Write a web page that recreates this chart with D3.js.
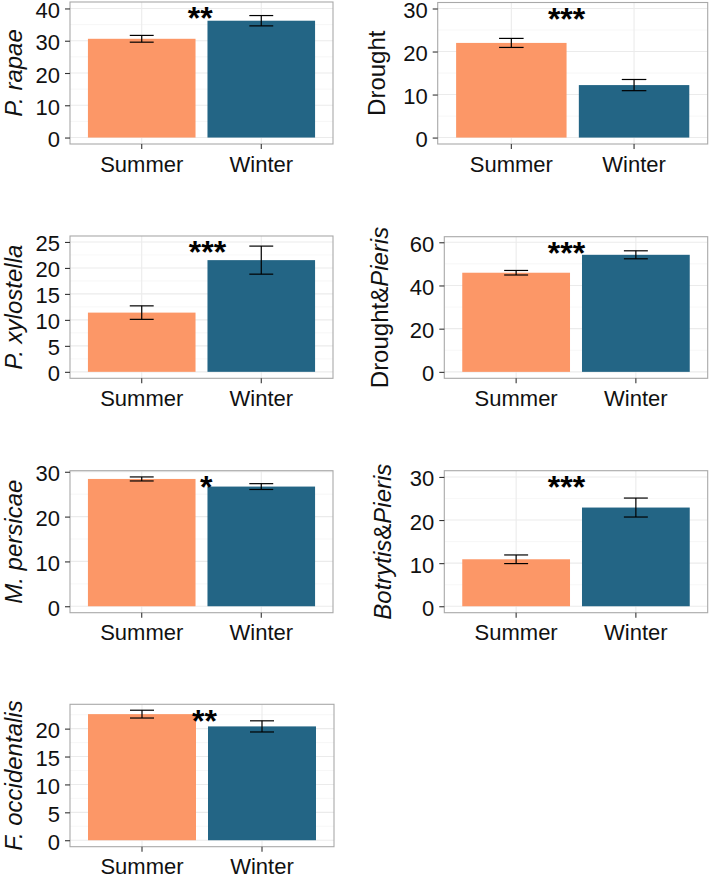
<!DOCTYPE html>
<html>
<head>
<meta charset="utf-8">
<script src="https://cdn.jsdelivr.net/npm/d3@7/dist/d3.min.js"></script>
<style>
  html, body { margin: 0; padding: 0; background: #ffffff; }
  svg { display: block; font-family: "Liberation Sans", Arial, Helvetica, sans-serif; }
</style>
</head>
<body>
<svg id="chart" width="709" height="876"></svg>
<script>
// ---------------- data ----------------
const seasons = ["Summer", "Winter"];
const panelNames = ["P. rapae", "Drought", "P. xylostella", "Drought&Pieris", "M. persicae", "Botrytis&Pieris", "F. occidentalis"];
// y-axis titles as [text, italic] segments
const yTitles = [
  [["P. rapae", true]],
  [["Drought", false]],
  [["P. xylostella", true]],
  [["Drought&", false], ["Pieris", true]],
  [["M. persicae", true]],
  [["Botrytis", true], ["&", false], ["Pieris", true]],
  [["F. occidentalis", true]]
];
const summerMean = [30.6, 22.0, 11.4, 45.9, 28.4, 10.9, 22.6];
const summerSE   = [1.05, 1.05, 1.3, 1.05, 0.45, 1.0, 0.7];
const winterMean = [36.2, 12.2, 21.5, 54.2, 26.7, 22.9, 20.4];
const winterSE   = [1.6, 1.3, 2.7, 1.85, 0.65, 2.2, 1.0];
const stars      = ["**", "***", "***", "***", "*", "***", "**"];
const starY      = [40, 29.9, 24.9, 59.6, 28.8, 29.95, 23.2];   // annotation height (data units)
const starX      = [1.49, 1.45, 1.55, 1.42, 1.54, 1.42, 1.52];  // annotation position on the discrete axis
const yTicks = [
  [0, 10, 20, 30, 40],
  [0, 10, 20, 30],
  [0, 5, 10, 15, 20, 25],
  [0, 20, 40, 60],
  [0, 10, 20, 30],
  [0, 10, 20, 30],
  [0, 5, 10, 15, 20]
];
const seasonColors = ["#fc9767", "#236585"];

// ---------------- layout ----------------
const layout = [
  {x0: 70,    x1: 333,   y0: 2,     y1: 144,   tx: 22},
  {x0: 437.7, x1: 707.7, y0: 2.5,   y1: 144,   tx: 384.5},
  {x0: 70,    x1: 333,   y0: 236,   y1: 378.3, tx: 22},
  {x0: 444.3, x1: 707.7, y0: 236.7, y1: 378.3, tx: 388},
  {x0: 70,    x1: 333,   y0: 470.7, y1: 612.7, tx: 22},
  {x0: 444.3, x1: 707.7, y0: 470.7, y1: 612.7, tx: 391},
  {x0: 70,    x1: 334,   y0: 704.3, y1: 846.7, tx: 22}
];

const svg = d3.select("#chart");
const FONT_TICK = 22, FONT_X = 22, FONT_TITLE = 24, FONT_STAR = 32;

panelNames.forEach((name, i) => {
  const L = layout[i];
  const g = svg.append("g").attr("class", "panel");
  const means = [summerMean[i], winterMean[i]];
  const ses = [summerSE[i], winterSE[i]];
  const Y = starY[i];

  const x = d3.scaleBand().domain(seasons).range([L.x0, L.x1]).paddingInner(0.1).paddingOuter(0.15);
  const y = d3.scaleLinear().domain([-0.05 * Y, 1.05 * Y]).range([L.y1, L.y0]);
  const xc = s => x(s) + x.bandwidth() / 2;

  // grid: minor
  const ticks = yTicks[i];
  const step = ticks[1] - ticks[0];
  const minors = [];
  for (let v = ticks[0] - step / 2; v <= y.domain()[1]; v += step) {
    if (v >= y.domain()[0]) minors.push(v);
  }
  g.selectAll(".minor").data(minors).join("line")
    .attr("x1", L.x0).attr("x2", L.x1)
    .attr("y1", d => y(d)).attr("y2", d => y(d))
    .attr("stroke", "#f3f3f3").attr("stroke-width", 0.7);
  g.selectAll(".majorh").data(ticks).join("line")
    .attr("x1", L.x0).attr("x2", L.x1)
    .attr("y1", d => y(d)).attr("y2", d => y(d))
    .attr("stroke", "#ebebeb").attr("stroke-width", 1.1);
  g.selectAll(".majorv").data(seasons).join("line")
    .attr("x1", d => xc(d)).attr("x2", d => xc(d))
    .attr("y1", L.y0).attr("y2", L.y1)
    .attr("stroke", "#ebebeb").attr("stroke-width", 1.1);

  // bars
  g.selectAll(".bar").data(seasons).join("rect")
    .attr("x", d => x(d)).attr("width", x.bandwidth())
    .attr("y", (d, j) => y(means[j]))
    .attr("height", (d, j) => y(0) - y(means[j]))
    .attr("fill", (d, j) => seasonColors[j]);

  // error bars
  const capW = x.bandwidth() * 0.2 / 0.9;
  seasons.forEach((s, j) => {
    const cx = xc(s), lo = y(means[j] - ses[j]), hi = y(means[j] + ses[j]);
    const eb = g.append("g").attr("stroke", "#000").attr("stroke-width", 1.2).attr("fill", "none");
    eb.append("line").attr("x1", cx).attr("x2", cx).attr("y1", lo).attr("y2", hi);
    eb.append("line").attr("x1", cx - capW / 2).attr("x2", cx + capW / 2).attr("y1", lo).attr("y2", lo);
    eb.append("line").attr("x1", cx - capW / 2).attr("x2", cx + capW / 2).attr("y1", hi).attr("y2", hi);
  });

  // significance stars
  const sx = xc(seasons[0]) + (starX[i] - 1) * (xc(seasons[1]) - xc(seasons[0]));
  g.append("text")
    .attr("x", sx).attr("y", y(Y) + 2.5 + 0.57 * FONT_STAR)
    .attr("text-anchor", "middle")
    .attr("font-size", FONT_STAR).attr("font-weight", "bold").attr("fill", "#000")
    .text(stars[i]);

  // panel border
  g.append("rect")
    .attr("x", L.x0).attr("y", L.y0)
    .attr("width", L.x1 - L.x0).attr("height", L.y1 - L.y0)
    .attr("fill", "none").attr("stroke", "#a9a9a9").attr("stroke-width", 1.1);

  // y axis
  const ya = g.append("g").attr("transform", `translate(${L.x0},0)`)
    .call(d3.axisLeft(y).tickValues(ticks).tickSize(5).tickPadding(5).tickFormat(d3.format("d")));
  ya.select(".domain").remove();
  ya.selectAll(".tick line").attr("stroke", "#333").attr("stroke-width", 1.1);
  ya.selectAll(".tick text").attr("font-size", FONT_TICK).attr("fill", "#111")
    .attr("font-family", "Liberation Sans, Arial, sans-serif")
    .attr("dy", "0.41em");

  // x axis
  const xa = g.append("g").attr("transform", `translate(0,${L.y1})`)
    .call(d3.axisBottom(x).tickSize(5).tickPadding(6));
  xa.select(".domain").remove();
  xa.selectAll(".tick line").attr("stroke", "#333").attr("stroke-width", 1.1);
  xa.selectAll(".tick text").attr("font-size", FONT_X).attr("fill", "#111")
    .attr("font-family", "Liberation Sans, Arial, sans-serif")
    .attr("dy", null).attr("y", 27.7);

  // y title
  const cy = (L.y0 + L.y1) / 2;
  const t = g.append("text")
    .attr("transform", `translate(${L.tx},${cy}) rotate(-90)`)
    .attr("text-anchor", "middle")
    .attr("font-size", FONT_TITLE).attr("fill", "#111");
  yTitles[i].forEach(([txt, it]) => {
    t.append("tspan").attr("font-style", it ? "italic" : "normal").text(txt);
  });
});
</script>
</body>
</html>
